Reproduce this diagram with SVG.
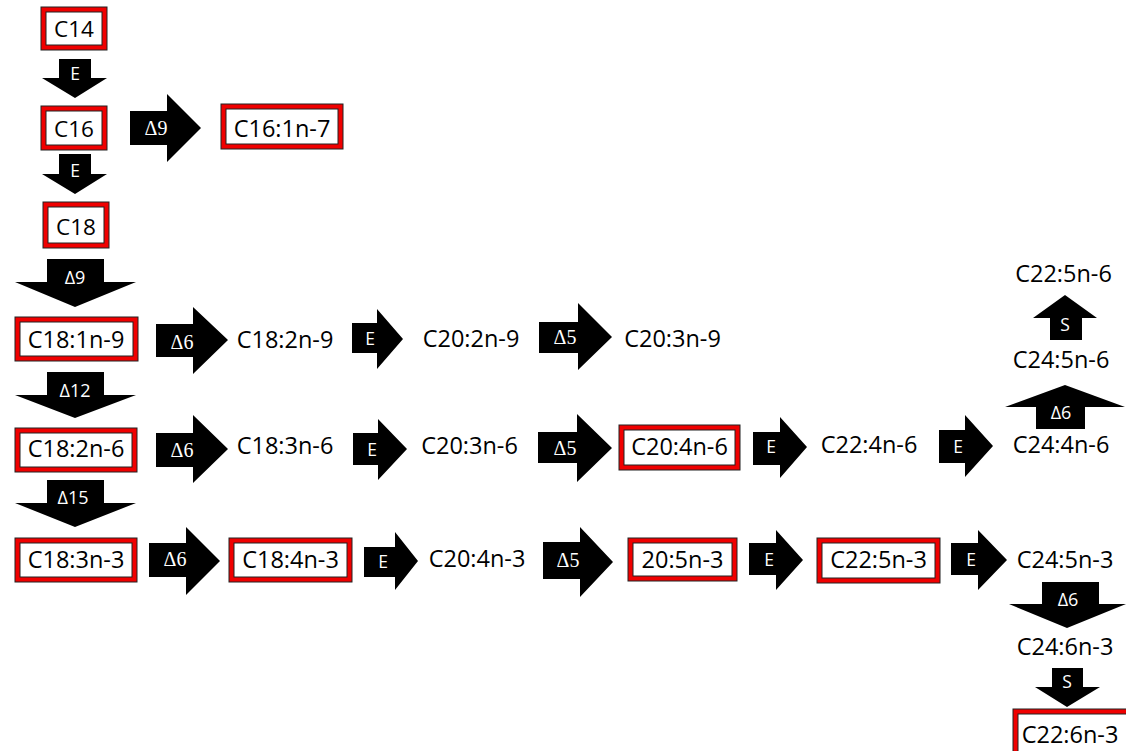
<svg xmlns="http://www.w3.org/2000/svg" width="1126" height="751" viewBox="0 0 1126 751">
<style>
.bo{fill:#f00000;stroke:#222;stroke-width:1}
.bi{fill:#fff;stroke:#222;stroke-width:1}
.t{font-family:"Open Sans","Liberation Sans",sans-serif;font-size:23.5px;fill:#000;text-anchor:middle}
.ts{font-size:22.5px}
.ar{fill:#000}
.la{font-family:"Open Sans","Liberation Sans",sans-serif;font-size:17.5px;fill:#fff;text-anchor:middle}
.ld{font-family:"Liberation Serif","DejaVu Serif",serif;font-size:20px;fill:#fff;text-anchor:middle}
.lv{font-family:"Open Sans","Liberation Sans",sans-serif;font-size:18px;fill:#fff;text-anchor:middle}
</style>
<rect width="1126" height="751" fill="#fff"/>

<g id="connectors">
  <polygon class="ar" points="59,59 91,59 91,78 107,78 75,98 42,78 59,78"/>
  <text class="la" x="75" y="80">E</text>
  <polygon class="ar" points="59,154 91,154 91,174 107,174 75,194 42,174 59,174"/>
  <text class="la" x="75" y="177">E</text>
  <polygon class="ar" points="47,259 104,259 104,282 136,282 75,307 15,282 47,282"/>
  <text class="lv" x="75" y="284">Δ9</text>
  <polygon class="ar" points="47,372 104,372 104,395 136,395 75,418 15,395 47,395"/>
  <text class="lv" x="75" y="397">Δ12</text>
  <polygon class="ar" points="47,480 104,480 104,503 136,503 75,527 15,503 47,503"/>
  <text class="lv" x="73" y="504">Δ15</text>

  <polygon class="ar" points="1042,582 1099,582 1099,604 1126,604 1067,628 1009,604 1042,604"/>
  <text class="lv" x="1068" y="606">Δ6</text>
  <polygon class="ar" points="1052,668 1083,668 1083,687 1100,687 1067,707 1035,687 1052,687"/>
  <text class="la" x="1067" y="688">S</text>
  <polygon class="ar" points="1036,429 1036,407 1005,407 1065,385 1125,407 1085,407 1085,429"/>
  <text class="lv" x="1061" y="419">Δ6</text>
  <polygon class="ar" points="1050,340 1050,318 1033,318 1065,295 1097,318 1082,318 1082,340"/>
  <text class="la" x="1065" y="331">S</text>

  <polygon class="ar" points="130,111 167,111 167,94 201,128 167,162 167,145 130,145"/>
  <text class="ld" x="156" y="135">Δ9</text>

  <polygon class="ar" points="156,324 193,324 193,307 228,340 193,374 193,357 156,357"/>
  <text class="ld" x="182" y="349">Δ6</text>
  <polygon class="ar" points="352,323 377,323 377,309 403,339 377,369 377,353 352,353"/>
  <text class="la" x="370" y="345">E</text>
  <polygon class="ar" points="539,322 578,322 578,303 612,337 578,370 578,353 539,353"/>
  <text class="ld" x="565" y="344">Δ5</text>

  <polygon class="ar" points="156,433 193,433 193,415 228,449 193,483 193,467 156,467"/>
  <text class="ld" x="182" y="457">Δ6</text>
  <polygon class="ar" points="353,433 378,433 378,419 407,449 378,480 378,465 353,465"/>
  <text class="la" x="372" y="456">E</text>
  <polygon class="ar" points="538,432 577,432 577,414 612,448 577,482 577,463 538,463"/>
  <text class="ld" x="565" y="455">Δ5</text>
  <polygon class="ar" points="753,432 780,432 780,417 807,447 780,478 780,465 753,465"/>
  <text class="la" x="771" y="453">E</text>
  <polygon class="ar" points="939,430 965,430 965,415 993,446 965,477 965,463 939,463"/>
  <text class="la" x="958" y="453">E</text>

  <polygon class="ar" points="149,543 186,543 186,527 220,561 186,595 186,577 149,577"/>
  <text class="ld" x="175" y="566">Δ6</text>
  <polygon class="ar" points="364,547 395,547 395,532 418,561 395,590 395,577 364,577"/>
  <text class="la" x="383" y="568">E</text>
  <polygon class="ar" points="543,542 580,542 580,527 613,562 580,597 580,579 543,579"/>
  <text class="ld" x="568" y="567">Δ5</text>
  <polygon class="ar" points="749,543 776,543 776,530 803,560 776,590 776,575 749,575"/>
  <text class="la" x="769" y="566">E</text>
  <polygon class="ar" points="951,543 978,543 978,530 1007,560 978,590 978,575 951,575"/>
  <text class="la" x="971" y="566">E</text>
</g>

<g id="n-c14"><rect class="bo" x="41" y="7" width="66" height="43"/><rect class="bi" x="46" y="12" width="56" height="33"/><text class="t ts" x="74" y="37">C14</text></g>
<g id="n-c16"><rect class="bo" x="41" y="106" width="66" height="44"/><rect class="bi" x="46" y="111" width="56" height="34"/><text class="t ts" x="74" y="137">C16</text></g>
<g id="n-c16-1n7"><rect class="bo" x="221" y="104" width="122" height="45"/><rect class="bi" x="226" y="109" width="112" height="35"/><text class="t" x="282" y="137">C16:1n-7</text></g>
<g id="n-c18"><rect class="bo" x="43" y="202" width="66" height="46"/><rect class="bi" x="48" y="207" width="56" height="36"/><text class="t ts" x="76" y="235">C18</text></g>
<g id="n-c18-1n9"><rect class="bo" x="15" y="317" width="123" height="44"/><rect class="bi" x="20" y="322" width="113" height="34"/><text class="t" x="76" y="348">C18:1n-9</text></g>
<g id="n-c18-2n6"><rect class="bo" x="15" y="428" width="122" height="44"/><rect class="bi" x="20" y="433" width="112" height="34"/><text class="t" x="76" y="457">C18:2n-6</text></g>
<g id="n-c18-3n3"><rect class="bo" x="15" y="538" width="122" height="44"/><rect class="bi" x="20" y="543" width="112" height="34"/><text class="t" x="76" y="568">C18:3n-3</text></g>
<g id="n-c18-4n3"><rect class="bo" x="229" y="538" width="123" height="44"/><rect class="bi" x="234" y="543" width="113" height="34"/><text class="t" x="290.5" y="568">C18:4n-3</text></g>
<g id="n-c20-4n6"><rect class="bo" x="619" y="425" width="121" height="45"/><rect class="bi" x="624" y="430" width="111" height="35"/><text class="t" x="679.5" y="455">C20:4n-6</text></g>
<g id="n-20-5n3"><rect class="bo" x="628" y="538" width="109" height="43"/><rect class="bi" x="633" y="543" width="99" height="33"/><text class="t" x="682.5" y="568">20:5n-3</text></g>
<g id="n-c22-5n3"><rect class="bo" x="817" y="538" width="123" height="45"/><rect class="bi" x="822" y="543" width="113" height="35"/><text class="t" x="878.5" y="568">C22:5n-3</text></g>
<g id="n-c22-6n3"><rect class="bo" x="1013" y="709" width="130" height="50"/><rect class="bi" x="1018" y="714" width="120" height="40"/><text class="t" x="1070" y="743">C22:6n-3</text></g>

<g id="n-c18-2n9"><text class="t" x="285" y="348">C18:2n-9</text></g>
<g id="n-c20-2n9"><text class="t" x="471" y="347">C20:2n-9</text></g>
<g id="n-c20-3n9"><text class="t" x="672.5" y="347">C20:3n-9</text></g>
<g id="n-c18-3n6"><text class="t" x="285" y="454">C18:3n-6</text></g>
<g id="n-c20-3n6"><text class="t" x="469.5" y="454">C20:3n-6</text></g>
<g id="n-c22-4n6"><text class="t" x="869" y="453">C22:4n-6</text></g>
<g id="n-c24-4n6"><text class="t" x="1061" y="453">C24:4n-6</text></g>
<g id="n-c24-5n6"><text class="t" x="1061" y="368">C24:5n-6</text></g>
<g id="n-c22-5n6"><text class="t" x="1063.5" y="282">C22:5n-6</text></g>
<g id="n-c20-4n3"><text class="t" x="477" y="567">C20:4n-3</text></g>
<g id="n-c24-5n3"><text class="t" x="1065" y="568">C24:5n-3</text></g>
<g id="n-c24-6n3"><text class="t" x="1065" y="655">C24:6n-3</text></g>
</svg>
